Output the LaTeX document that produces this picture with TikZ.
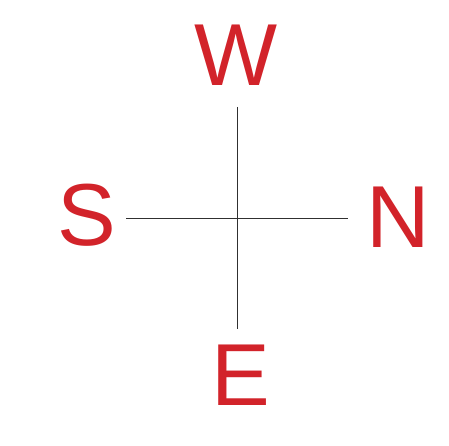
\documentclass[tikz,border=0pt]{standalone}
\usepackage{fontspec}
\setmainfont{Liberation Sans}
\usepackage{tikz}
\usetikzlibrary{positioning}
\usepackage{xcolor}
\definecolor{fred}{HTML}{D2232A}
\definecolor{fline}{HTML}{303030}
\tikzset{
  cardinal/.style = {text=fred, inner sep=0pt, font=\fontsize{88}{88}\selectfont},
  arm/.style      = {draw=fline, line width=0.8pt},
}
\begin{document}
\begin{tikzpicture}[x=1pt,y=-1pt]
\useasboundingbox (0,0) rectangle (449,446);
% the four letters
\node[cardinal] (w) at (236,55)  {W};
\node[cardinal] (s) at (86.5,215) {S};
\node[cardinal] (n) at (398.5,217) {N};
\node[cardinal] (e) at (241,375.5) {E};
% ends of the cross, kept clear of the letters
\coordinate (top)    at (237,107);
\coordinate (bottom) at (237,329);
\coordinate (left)   at (126,218);
\coordinate (right)  at (348,218);
\draw[arm] (top) -- (bottom);
\draw[arm] (left) -- (right);
\end{tikzpicture}
\end{document}
